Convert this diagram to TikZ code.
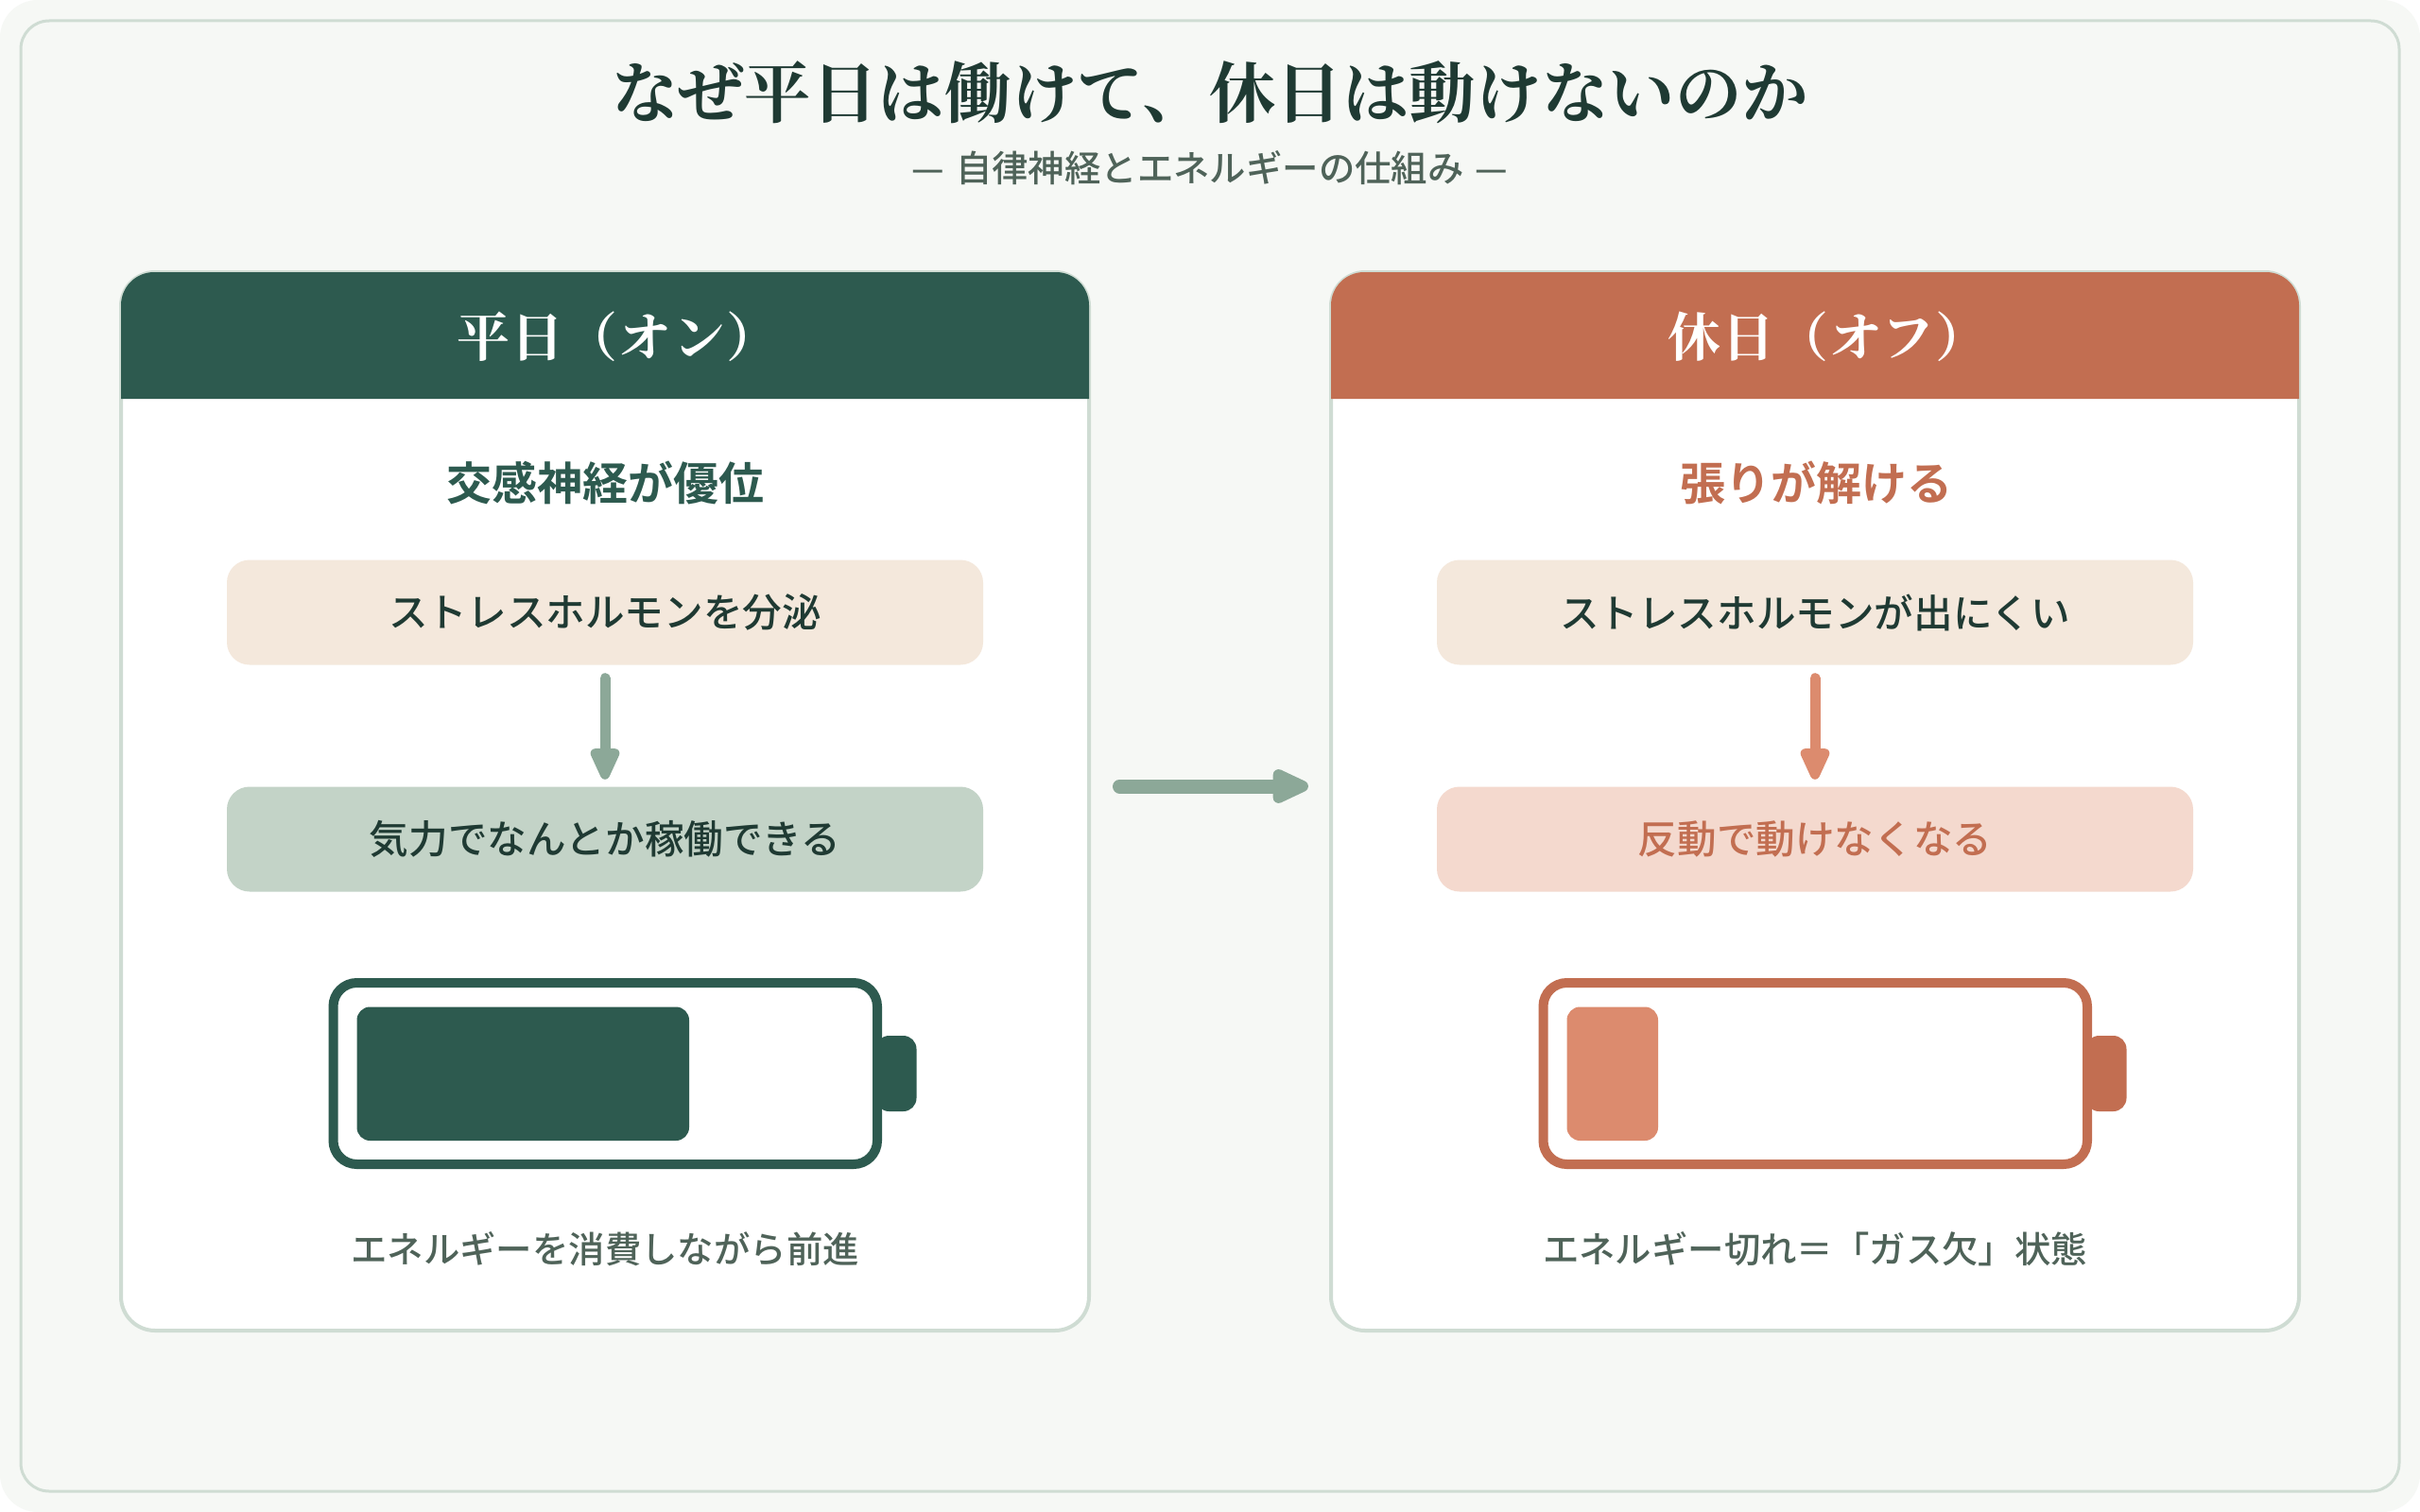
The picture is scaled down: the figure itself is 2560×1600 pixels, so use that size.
\documentclass[tikz,border=0pt]{standalone}
\usepackage{fontspec}
\usetikzlibrary{arrows.meta}
\newfontfamily\jpmed{Noto Sans CJK JP Medium}
\newfontfamily\jpbold{Noto Sans CJK JP Bold}
\newfontfamily\jpserif{Noto Serif CJK JP Bold}
\newfontfamily\jpserifsp{Noto Serif CJK JP Bold}[LetterSpace=2]
\definecolor{pagebg}{HTML}{F6F8F5}
\definecolor{edgec}{HTML}{CFDCD3}
\definecolor{deepgreen}{HTML}{2D5A4F}
\definecolor{terra}{HTML}{C26E51}
\definecolor{salmon}{HTML}{DC8B6E}
\definecolor{sage}{HTML}{8CA898}
\definecolor{cream}{HTML}{F4E8DC}
\definecolor{palegreen}{HTML}{C3D3C7}
\definecolor{palered}{HTML}{F4D9CE}
\definecolor{inkc}{HTML}{1F3A33}
\definecolor{mutedc}{HTML}{4F6359}
\tikzset{
  x=1pt,y=-1pt,
  panelbox/.style={draw=edgec,line width=4pt,fill=white,rounded corners=36pt,minimum width=1024pt,minimum height=1120pt,inner sep=0pt},
  flowbox/.style={rounded corners=24pt,minimum width=800pt,minimum height=111pt,inner sep=0pt,text=inkc,font=\jpmed\fontsize{41.6}{50}\selectfont},
  headtext/.style={text=white,inner sep=0pt,font=\jpserifsp\fontsize{56}{66}\selectfont},
  subhead/.style={inner sep=0pt,font=\jpbold\fontsize{48}{58}\selectfont},
  caption/.style={inner sep=0pt,text=mutedc,font=\jpmed\fontsize{38.4}{46}\selectfont},
  flowarrow/.style={line width=11pt,line cap=round,-{Triangle[length=41pt,width=33pt,round,line width=10pt]},shorten >=7.5pt,shorten <=14pt},
  batshell/.style={line width=10pt,fill=white,rounded corners=25pt},
  batfill/.style={rounded corners=14pt},
  batcap/.style={rounded corners=14pt},
}
\begin{document}
\begin{tikzpicture}
\useasboundingbox (0,0) rectangle (2560,1600);
\fill[white] (0,0) rectangle (2560,1600);
\fill[pagebg,rounded corners=40pt] (0,0) rectangle (2560,1600);
\draw[edgec,line width=3pt,rounded corners=30pt] (22,22) rectangle (2538,1578);
\node[inner sep=0pt,text=inkc,font=\jpserif\fontsize{70.4}{84}\selectfont] (title) at (1280,98) {なぜ平日は働けて、休日は動けないのか};
\node[inner sep=0pt,text=mutedc,font=\jpmed\fontsize{38.4}{46}\selectfont] (subtitle) at (1280,178) {—\hspace{12pt}自律神経とエネルギーの仕組み\hspace{12pt}—};
% left panel
\node[panelbox] (lpanel) at (640,848) {};
\fill[deepgreen,rounded corners=35pt] (128,422) -- (128,288) -- (1152,288) -- (1152,422);
\node[headtext] (lhead) at (654,356) {平日（オン）};
\node[subhead,text=deepgreen] (lsub) at (640,511) {交感神経が優位};
\node[flowbox,fill=cream] (lone) at (640,648) {ストレスホルモンを分泌};
\node[flowbox,fill=palegreen] (ltwo) at (640,888) {気力でなんとか稼働できる};
\draw[flowarrow,sage] (lone) -- (ltwo);
\fill[batcap,deepgreen] (926.5,1096) rectangle (969.5,1176);
\draw[batshell,draw=deepgreen] (352.5,1040) rectangle (928,1232);
\fill[batfill,deepgreen] (377.5,1065.5) rectangle (729,1207);
\node[caption] (lcap) at (640,1322) {エネルギーを消費しながら前進};
% right panel
\node[panelbox] (rpanel) at (1920,848) {};
\fill[terra,rounded corners=35pt] (1408,422) -- (1408,288) -- (2432,288) -- (2432,422);
\node[headtext] (rhead) at (1934,356) {休日（オフ）};
\node[subhead,text=terra] (rsub) at (1921.5,511) {張りが解ける};
\node[flowbox,fill=cream] (rone) at (1920,648) {ストレスホルモンが出にくい};
\node[flowbox,fill=palered,text=terra] (rtwo) at (1920,888) {反動で動けなくなる};
\draw[flowarrow,salmon] (rone) -- (rtwo);
\fill[batcap,terra] (2206.5,1096) rectangle (2249.5,1176);
\draw[batshell,draw=terra] (1632.5,1040) rectangle (2208,1232);
\fill[batfill,salmon] (1657.5,1065.5) rectangle (1754,1207);
\node[caption] (rcap) at (1920,1322) {エネルギー切れ＝「ガス欠」状態};
% between panels
\coordinate (gapstart) at (1184.5,832);
\coordinate (gapend) at (1384,832);
\draw[sage,line width=15pt,line cap=round,-{Triangle[length=46.8pt,width=38.7pt,round,line width=12pt]}] (gapstart) -- (gapend);
\end{tikzpicture}
\end{document}
